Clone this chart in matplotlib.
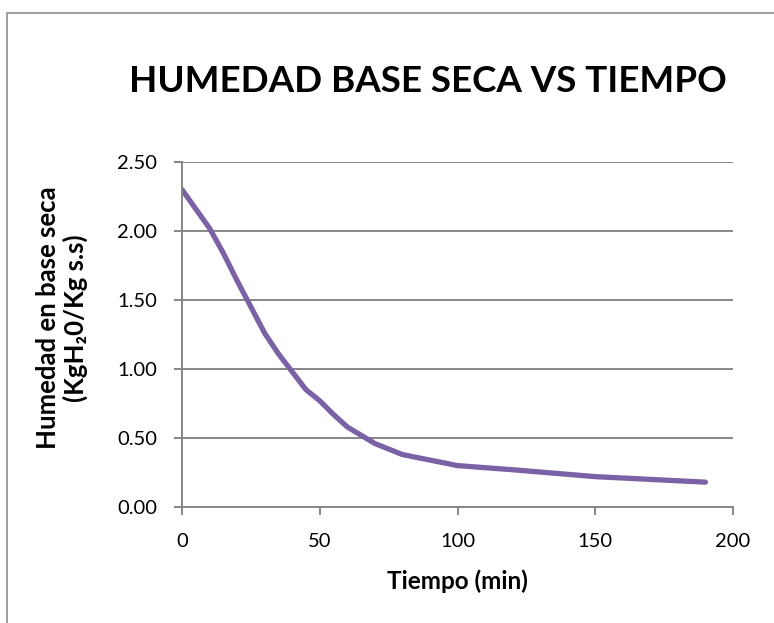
import matplotlib.pyplot as plt
from matplotlib.patches import Rectangle

# datos
tiempo = [0, 5, 10, 15, 20, 25, 30, 35, 40, 45, 50, 55, 60, 65, 70, 75, 80, 85, 90,
          95, 100, 120, 150, 170, 190]
humedad = [2.30, 2.16, 2.02, 1.84, 1.64, 1.45, 1.26, 1.11, 0.98, 0.85, 0.77, 0.67,
           0.58, 0.52, 0.46, 0.42, 0.38, 0.36, 0.34, 0.32, 0.30, 0.27, 0.22, 0.20, 0.18]
x_ticks = [0, 50, 100, 150, 200]
y_ticks = [0.0, 0.5, 1.0, 1.5, 2.0, 2.5]

FONT = ['Lato', 'DejaVu Sans']
GRIS = '#868686'
W, H = 774, 623

fig = plt.figure(figsize=(W / 100, H / 100), dpi=100)
fig.patches.append(Rectangle((7 / W, -0.05), 1.1, 1 - 13 / H + 0.05,
                             transform=fig.transFigure, fill=False,
                             edgecolor='#969696', linewidth=1.3))

ax = fig.add_axes([182 / W, 116 / H, 551 / W, 345 / H])
ax.plot(tiempo, humedad, color='#7B62A6', linewidth=3.8,
        solid_capstyle='round', solid_joinstyle='round')

ax.set_xlim(0, 200)
ax.set_ylim(0, 2.5)
ax.set_xticks(x_ticks)
ax.set_yticks(y_ticks)
ax.set_xticklabels([str(v) for v in x_ticks], fontsize=14.5, family=FONT)
ax.set_yticklabels(['{:.2f}'.format(v) for v in y_ticks], fontsize=14.5, family=FONT)
ax.yaxis.grid(True, color=GRIS, linewidth=1.4)
ax.set_axisbelow(True)
for s in ['top', 'right']:
    ax.spines[s].set_visible(False)
for s in ['left', 'bottom']:
    ax.spines[s].set_color(GRIS)
    ax.spines[s].set_linewidth(1.4)
ax.tick_params(axis='both', direction='out', length=6, width=1.4, color=GRIS,
               labelcolor='black')
ax.tick_params(axis='y', pad=12)
ax.tick_params(axis='x', pad=13)

fig.text(457 / W, 1 - 581 / H, 'Tiempo (min)', ha='center', va='center',
         fontsize=17.5, fontweight='bold', family=FONT)
fig.text(62 / W, 1 - 318 / H, 'Humedad en base seca\n(KgH\u20820/Kg s.s)', ha='center',
         va='center', rotation=90, multialignment='center', fontsize=18.5,
         fontweight='bold', family=FONT, linespacing=1.15)

fig.text(428 / W, 1 - 81 / H, 'HUMEDAD BASE SECA VS TIEMPO', ha='center', va='center',
         fontsize=26.5, fontweight='bold', family=FONT)

fig.savefig('out.png', dpi=100)
